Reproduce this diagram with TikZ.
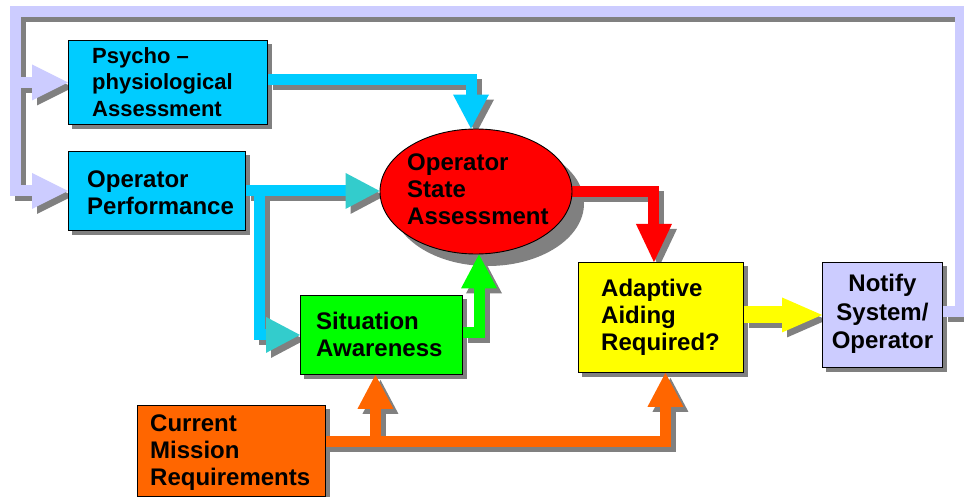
\documentclass[tikz,border=0pt]{standalone}
\usepackage{fontspec}
\setmainfont{Liberation Sans}
\usetikzlibrary{arrows.meta,shapes.geometric,calc}
\definecolor{cyanc}{HTML}{00CCFF}
\definecolor{tealc}{HTML}{33CCCC}
\definecolor{redc}{HTML}{FF0000}
\definecolor{greenc}{HTML}{00FF00}
\definecolor{yelc}{HTML}{FFFF00}
\definecolor{orc}{HTML}{FF6600}
\definecolor{lavc}{HTML}{CCCCFF}
\definecolor{shcol}{HTML}{808080}
\pgfdeclarelayer{shadows}
\pgfdeclarelayer{links}
\pgfsetlayers{shadows,links,main}
% list of all connectors: \lk{line opts}{tip size opts}{tip colour opts}{path}
\newcommand\linkset{%
  \lk{cyanc}{}{}{([yshift=3pt]psy.east) -| ([xshift=-5pt]osa.north)}%
  \lk{cyanc}{}{color=tealc}{(opp.east) -- (opp.east -| osa.west)}%
  \lk{cyanc}{}{color=tealc}{(opsplit) |- (sa.west)}%
  \lk{redc}{length=38pt}{}{(osa.east) -| ([xshift=-7pt]ada.north)}%
  \lk{greenc}{}{}{([yshift=2pt]sa.east) -| ([xshift=3pt]osa.south)}%
  \lk{orc}{}{}{(cmstart) -| ([xshift=4.5pt]ada.south)}%
  \lk{orc}{}{}{([yshift=-5pt]cmj) -- (cmj |- sa.south)}%
  \lk{yelc,line width=17pt}{width=35pt,length=40pt}{}{(ada.east |- ntf.west) -- (ntf.west)}%
  \lk{lavc}{length=36pt}{}{([yshift=3pt]ntf.east) -| (fbR) -| (fbL |- opp.west) -- (opp.west)}%
  \lk{lavc}{length=36pt}{}{(fbL |- psy.west) -- (psy.west)}%
}
\newcommand\shadowpass{%
  \def\lk##1##2##3##4{\draw[line width=11pt,##1,shcol,transform canvas={shift={(5pt,-5pt)}},
    -{Triangle[width=36pt,length=34pt,line width=0pt,##2]}] ##4;}%
  \linkset}
\newcommand\colourpass{%
  \def\lk##1##2##3##4{\draw[line width=11pt,##1,
    -{Triangle[width=36pt,length=34pt,line width=0pt,##2,##3]}] ##4;}%
  \linkset}
\begin{document}
\begin{tikzpicture}[x=1pt,y=-1pt,
  box/.style={draw=black, line width=0.9pt, inner sep=0pt, anchor=north west},
  txt/.style={font=\bfseries\fontsize{24}{27}\selectfont, align=left, inner sep=0pt, text=black}]
\useasboundingbox (0,0) rectangle (964,497);
% boxes
\node[box, fill=cyanc, minimum width=199pt, minimum height=84pt] (psy) at (68,40) {};
\node[box, fill=cyanc, minimum width=177pt, minimum height=79pt] (opp) at (68,151) {};
\node[ellipse, draw=black, line width=0.9pt, fill=redc, minimum width=192pt, minimum height=125pt, inner sep=0pt] (osa) at (476,191.5) {};
\node[box, fill=greenc, minimum width=162pt, minimum height=79pt] (sa) at (300,295) {};
\node[box, fill=yelc, minimum width=165pt, minimum height=110pt] (ada) at (578,262) {};
\node[box, fill=lavc, minimum width=120pt, minimum height=105pt] (ntf) at (822,262) {};
\node[box, fill=orc, minimum width=188pt, minimum height=91pt] (cm) at (137,405) {};
% texts
\node[txt, anchor=west, font=\bfseries\fontsize{22}{26.5}\selectfont] (psyT) at ([xshift=24pt,yshift=0.5pt]psy.west) {Psycho –\\physiological\\Assessment};
\node[txt, anchor=west] (oppT) at ([xshift=19pt,yshift=-2pt]opp.west) {Operator\\Performance};
\node[txt, anchor=west] (osaT) at ([xshift=-69pt,yshift=2pt]osa.center) {Operator\\State\\Assessment};
\node[txt, anchor=west] (saT) at ([xshift=16pt,yshift=1pt]sa.west) {Situation\\Awareness};
\node[txt, anchor=west] (adaT) at ([xshift=23pt]ada.west) {Adaptive\\Aiding\\Required?};
\node[txt, align=center, font=\bfseries\fontsize{24}{28.5}\selectfont] (ntfT) at ([yshift=1pt]ntf.center) {Notify\\System/\\Operator};
\node[txt, anchor=west] (cmT) at ([xshift=13pt,yshift=-1.5pt]cm.west) {Current\\Mission\\Requirements};
% helper coordinates for connector bends
\coordinate (opsplit) at ($(opp.east)+(14,-5)$);
\coordinate (cmstart) at ($(cm.east)+(-10,-9)$);
\coordinate (cmj) at ([xshift=-6pt]sa.south |- cmstart);
\coordinate (fbR) at (960,12);
\coordinate (fbL) at (15,12);
\begin{pgfonlayer}{shadows}
  \fill[white] (0,0) rectangle (964,497);
  \foreach \b in {psy,opp,sa,ada,ntf,cm}
    \fill[shcol] ([xshift=4pt,yshift=-4pt]\b.south west) rectangle ([xshift=4pt,yshift=-4pt]\b.north east);
  \fill[shcol] ([xshift=12pt,yshift=-12pt]osa.center) ellipse [x radius=96, y radius=62.5];
\end{pgfonlayer}
\begin{pgfonlayer}{links}
  \shadowpass
  \colourpass
\end{pgfonlayer}
\end{tikzpicture}
\end{document}
